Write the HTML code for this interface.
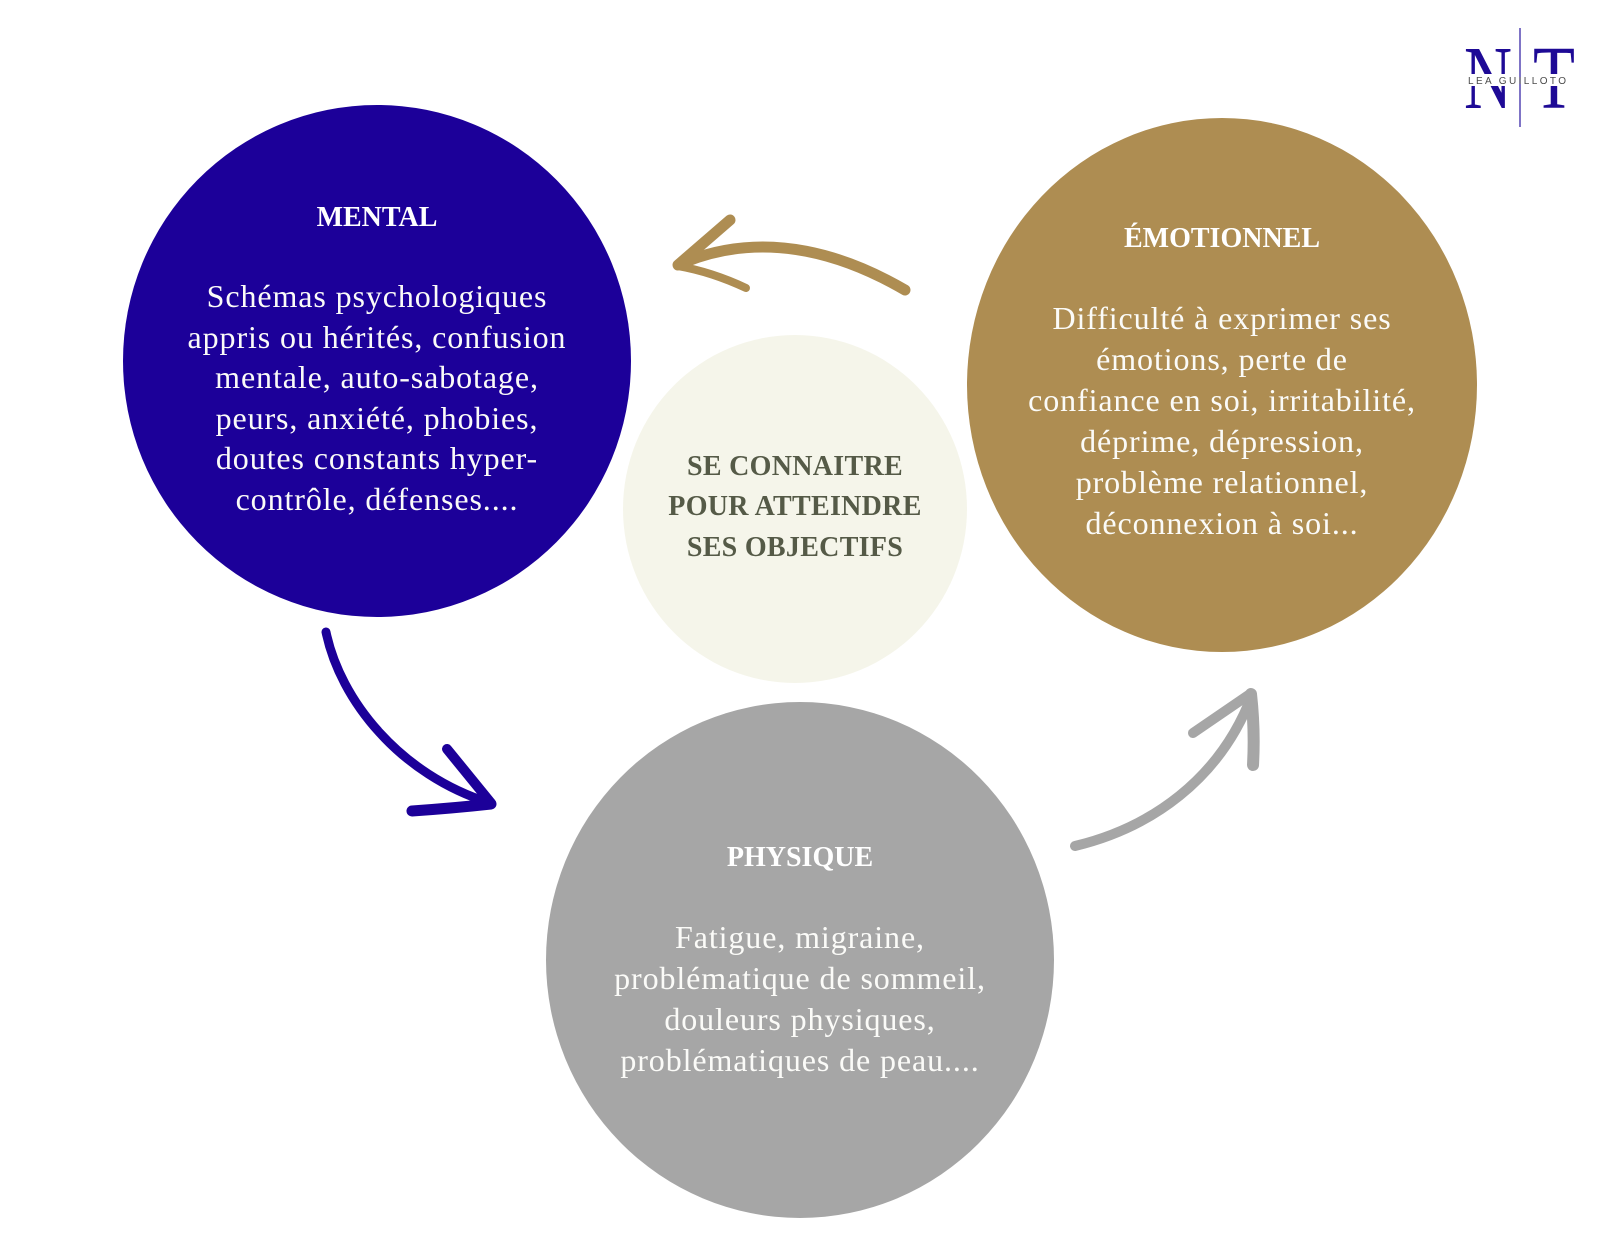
<!DOCTYPE html>
<html>
<head>
<meta charset="utf-8">
<style>
  html, body { margin: 0; padding: 0; background: #ffffff; }
  body { width: 1600px; height: 1236px; overflow: hidden; }
  svg { display: block; }
  .hd { font-family: "Liberation Serif", serif; font-weight: bold; font-size: 28px; fill: #ffffff; }
  .bd { font-family: "Liberation Serif", serif; font-size: 32px; fill: #fbfbf8; letter-spacing: 0.9px; }
  .ct { font-family: "Liberation Serif", serif; font-weight: bold; font-size: 28px; fill: #555a47; letter-spacing: 0.3px; }
</style>
</head>
<body>
<svg width="1600" height="1236" viewBox="0 0 1600 1236" xmlns="http://www.w3.org/2000/svg">
  <rect x="0" y="0" width="1600" height="1236" fill="#ffffff"/>

  <!-- Logo -->
  <text x="1464" y="108" font-family="Liberation Serif, serif" font-size="90" fill="#1e0a96" textLength="48" lengthAdjust="spacingAndGlyphs">N</text>
  <text x="1533" y="108" font-family="Liberation Serif, serif" font-size="90" fill="#1e0a96" textLength="42" lengthAdjust="spacingAndGlyphs">T</text>
  <rect x="1462" y="74" width="118" height="12" fill="#ffffff"/>
  <line x1="1520" y1="28" x2="1520" y2="127" stroke="#3a2aa8" stroke-width="1.3"/>
  <text x="1468" y="84" font-family="Liberation Sans, sans-serif" font-size="10" fill="#4a4a4a" textLength="98" lengthAdjust="spacing">LEA GUILLOTO</text>

  <!-- Circles -->
  <ellipse cx="377" cy="361" rx="254" ry="256" fill="#1c0099"/>
  <ellipse cx="795" cy="509" rx="172" ry="174" fill="#f5f5ea"/>
  <ellipse cx="1222" cy="385" rx="255" ry="267" fill="#ae8d52"/>
  <ellipse cx="800" cy="960" rx="254" ry="258" fill="#a6a6a6"/>

  <!-- MENTAL -->
  <g text-anchor="middle">
    <text class="hd" x="377" y="226">MENTAL</text>
    <text class="bd" x="377" y="307">Schémas psychologiques</text>
    <text class="bd" x="377" y="348">appris ou hérités, confusion</text>
    <text class="bd" x="377" y="388">mentale, auto-sabotage,</text>
    <text class="bd" x="377" y="429">peurs, anxiété, phobies,</text>
    <text class="bd" x="377" y="469">doutes constants hyper-</text>
    <text class="bd" x="377" y="510">contrôle, défenses....</text>
  </g>

  <!-- EMOTIONNEL -->
  <g text-anchor="middle">
    <text class="hd" x="1222" y="247">ÉMOTIONNEL</text>
    <text class="bd" x="1222" y="329">Difficulté à exprimer ses</text>
    <text class="bd" x="1222" y="370">émotions, perte de</text>
    <text class="bd" x="1222" y="411">confiance en soi, irritabilité,</text>
    <text class="bd" x="1222" y="452">déprime, dépression,</text>
    <text class="bd" x="1222" y="493">problème relationnel,</text>
    <text class="bd" x="1222" y="534">déconnexion à soi...</text>
  </g>

  <!-- CENTER -->
  <g text-anchor="middle">
    <text class="ct" x="795" y="475">SE CONNAITRE</text>
    <text class="ct" x="795" y="515">POUR ATTEINDRE</text>
    <text class="ct" x="795" y="556">SES OBJECTIFS</text>
  </g>

  <!-- PHYSIQUE -->
  <g text-anchor="middle">
    <text class="hd" x="800" y="866">PHYSIQUE</text>
    <text class="bd" x="800" y="948">Fatigue, migraine,</text>
    <text class="bd" x="800" y="989">problématique de sommeil,</text>
    <text class="bd" x="800" y="1030">douleurs physiques,</text>
    <text class="bd" x="800" y="1071">problématiques de peau....</text>
  </g>

  <!-- Gold arrow (top, pointing left) -->
  <g fill="none" stroke="#ae8d52" stroke-linecap="round" stroke-linejoin="round">
    <path d="M 905 290 C 850 258, 770 228, 685 262" stroke-width="11"/>
    <path d="M 730 220 L 678 265" stroke-width="11"/>
    <path d="M 678 266 Q 712 272 746 288" stroke-width="8"/>
  </g>

  <!-- Blue arrow (left, pointing down-right) -->
  <g fill="none" stroke="#1c0099" stroke-linecap="round" stroke-linejoin="round">
    <path d="M 326 632 C 340 700, 400 775, 490 803" stroke-width="9"/>
    <path d="M 447 749 L 491 803" stroke-width="10"/>
    <path d="M 412 811 Q 455 808 491 804" stroke-width="11"/>
  </g>

  <!-- Grey arrow (right, pointing up-right) -->
  <g fill="none" stroke="#a6a6a6" stroke-linecap="round" stroke-linejoin="round">
    <path d="M 1075 846 C 1150 828, 1220 780, 1252 695" stroke-width="10"/>
    <path d="M 1193 733 L 1250 694" stroke-width="10"/>
    <path d="M 1251 694 Q 1255 730 1253 765" stroke-width="12"/>
  </g>
</svg>
</body>
</html>
